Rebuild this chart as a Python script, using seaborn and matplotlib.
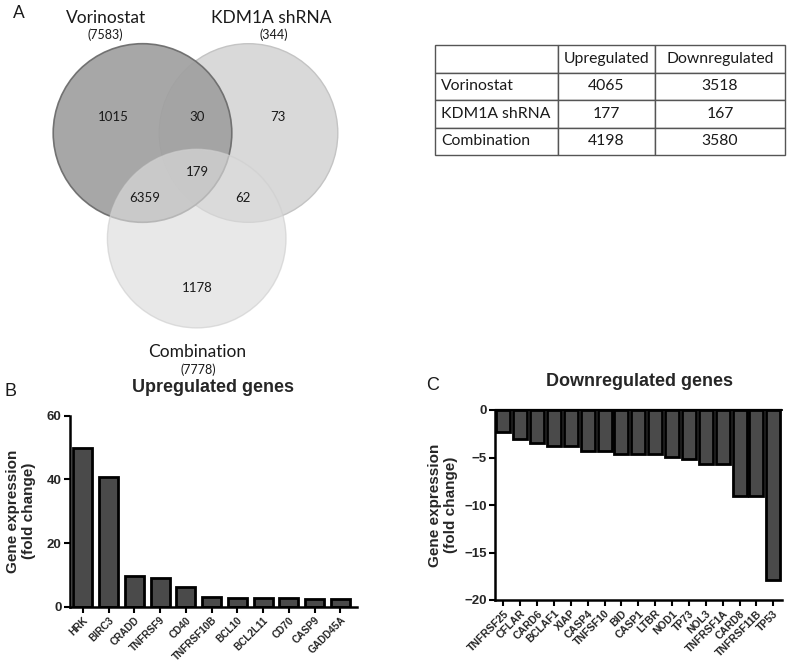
import numpy as np
import pandas as pd
import matplotlib
matplotlib.use("Agg")
import matplotlib.pyplot as plt
from matplotlib.patches import Circle
import seaborn as sns


#%% Data
# Venn (panel A)
Venn_Names      = ["Vorinostat", "KDM1A shRNA", "Combination"]
Venn_Totals     = [7583, 344, 7778]
# regions: V only, V&K, K only, V&K&C, V&C, K&C, C only
Venn_Regions    = [1015, 30, 73, 179, 6359, 62, 1178]

# Table (panel A)
Table_Rows      = ["Vorinostat", "KDM1A shRNA", "Combination"]
Table_Cols      = ["Upregulated", "Downregulated"]
Table_Up        = [4065, 177, 4198]
Table_Down      = [3518, 167, 3580]

# Panel B
Up_Genes        = ["HRK", "BIRC3", "CRADD", "TNFRSF9", "CD40", "TNFRSF10B",
                   "BCL10", "BCL2L11", "CD70", "CASP9", "GADD45A"]
Up_Values       = [50.0, 40.8, 9.6, 9.1, 6.1, 2.9, 2.7, 2.7, 2.7, 2.5, 2.5]

# Panel C
Down_Genes      = ["TNFRSF25", "CFLAR", "CARD6", "BCLAF1", "XIAP", "CASP4",
                   "TNFSF10", "BID", "CASP1", "LTBR", "NOD1", "TP73", "NOL3",
                   "TNFRSF1A", "CARD8", "TNFRSF11B", "TP53"]
Down_Values     = [-2.3, -3.0, -3.5, -3.8, -3.8, -4.3, -4.3, -4.6, -4.6, -4.6,
                   -4.9, -5.2, -5.7, -5.7, -9.0, -9.0, -17.9]


#%% Style
W, H = 791, 662

FontBar     = "Liberation Sans"
FontVenn    = "Lato"

Bar_Color       = "#4a4a4a"
Bar_EdgeColor   = "black"
Bar_EdgeWidth   = 2.0
Axis_LineWidth  = 1.8

FontSize_Tick       = 9.5
FontSize_XTick      = {"B": 7.2, "C": 7.6}
FontSize_AxisLabel  = 11
FontSize_Title      = 13


def fx(px):
    return px / W


def fy(py):
    return 1 - py / H


sns.set_theme(style="white")
plt.rcParams['font.family'] = [FontBar, 'DejaVu Sans']

Fig = plt.figure(figsize=[W / 100, H / 100], dpi=100)


#%% Panel A - Venn (drawn in pixel space on a full-figure overlay)
axv = Fig.add_axes([0, 0, 1, 1])
axv.set_xlim(0, W)
axv.set_ylim(H, 0)
axv.axis("off")

Circle_Centers  = [(142.5, 133), (248.5, 133), (196.7, 238.6)]
Circle_Radius   = 89.3

# draw order: KDM1A, Vorinostat, Combination
axv.add_patch(Circle(Circle_Centers[1], Circle_Radius, fc="#d9d9d9", ec="#c4c4c4",
                     lw=1.0, alpha=1.0, zorder=1))
axv.add_patch(Circle(Circle_Centers[0], Circle_Radius, fc="#a0a0a0", ec="#6a6a6a",
                     lw=1.2, alpha=0.92, zorder=2))
axv.add_patch(Circle(Circle_Centers[2], Circle_Radius, fc="#dcdcdc", ec="#cfcfcf",
                     lw=1.0, alpha=0.65, zorder=3))

Name_Pos    = [(106, 18), (271, 18), (197, 352)]
Total_Pos   = [(105, 35), (274, 35), (198, 370)]
for name, total, p1, p2 in zip(Venn_Names, Venn_Totals, Name_Pos, Total_Pos):
    axv.text(p1[0], p1[1], name, ha="center", va="center", fontsize=12.5,
             family=FontVenn, color="#1a1a1a", zorder=5)
    axv.text(p2[0], p2[1], "(%d)" % total, ha="center", va="center", fontsize=9,
             family=FontVenn, color="#1a1a1a", zorder=5)

Region_Pos = [(113, 117), (197, 117), (278, 117), (197, 172), (145, 198),
              (243, 198), (197, 288)]
for val, pos in zip(Venn_Regions, Region_Pos):
    axv.text(pos[0], pos[1], str(val), ha="center", va="center", fontsize=9.5,
             family=FontVenn, color="#1a1a1a", zorder=5)

# panel letters
axv.text(19, 13, "A", ha="center", va="center", fontsize=12.5, family=FontVenn, color="#1a1a1a")
axv.text(11, 391, "B", ha="center", va="center", fontsize=13, family=FontBar, color="#1a1a1a")
axv.text(433, 385, "C", ha="center", va="center", fontsize=13, family=FontBar, color="#1a1a1a")


#%% Panel A - Table
Tab_Left, Tab_Right, Tab_Top, Tab_Bottom = 435, 785, 45, 155
axt = Fig.add_axes([fx(Tab_Left), fy(Tab_Bottom), fx(Tab_Right - Tab_Left),
                    (Tab_Bottom - Tab_Top) / H])
axt.axis("off")

df_Table = pd.DataFrame({Table_Cols[0]: Table_Up, Table_Cols[1]: Table_Down},
                        index=Table_Rows)
Cell_Text = [["", Table_Cols[0], Table_Cols[1]]]
for r in df_Table.index:
    Cell_Text.append([r, str(df_Table.loc[r, Table_Cols[0]]),
                      str(df_Table.loc[r, Table_Cols[1]])])

Col_Widths = np.array([123, 97, 130]) / 350
tab = axt.table(cellText=Cell_Text, colWidths=Col_Widths, bbox=[0, 0, 1, 1],
                cellLoc="center")
tab.auto_set_font_size(False)
for (r, c), cell in tab.get_celld().items():
    cell.set_edgecolor("#555555")
    cell.set_linewidth(1.0)
    cell.get_text().set_fontsize(11.3)
    cell.get_text().set_family(FontVenn)
    cell.get_text().set_color("#1a1a1a")
    if c == 0:
        cell.get_text().set_ha("left")
        cell._loc = "left"
        cell.PAD = 0.05


#%% Panel B - Upregulated
df_Up = pd.DataFrame({"Gene": Up_Genes, "Value": Up_Values})

axB = Fig.add_axes([fx(70), fy(606.7), fx(357 - 70), (606.7 - 415.7) / H])
sns.barplot(ax=axB, data=df_Up, x="Gene", y="Value", color=Bar_Color,
            saturation=1, width=0.74, edgecolor=Bar_EdgeColor,
            linewidth=Bar_EdgeWidth, errorbar=None)

axB.set_ylim(0, 60)
axB.set_yticks([0, 20, 40, 60])
axB.set_xlim(-0.5, 10.65)


#%% Panel C - Downregulated
df_Down = pd.DataFrame({"Gene": Down_Genes, "Value": Down_Values})

axC = Fig.add_axes([fx(495), fy(600), fx(781.7 - 495), (600 - 410) / H])
sns.barplot(ax=axC, data=df_Down, x="Gene", y="Value", color=Bar_Color,
            saturation=1, width=0.83, edgecolor=Bar_EdgeColor,
            linewidth=Bar_EdgeWidth, errorbar=None)

axC.set_ylim(-20, 0)
axC.set_yticks([0, -5, -10, -15, -20])
axC.set_xlim(-0.5, 16.5)
axC.axhline(0, color="black", lw=1.6, zorder=5, clip_on=False)


#%% Common axis styling
Label_X = {"B": -0.118, "C": -0.13}
for key, ax in zip(["B", "C"], [axB, axC]):
    ax.set_xlabel("")
    ax.set_ylabel("Gene expression\n(fold change)", fontsize=FontSize_AxisLabel,
                  fontweight="bold", linespacing=1.2)
    ax.yaxis.set_label_coords(Label_X[key], 0.5)
    ax.spines[['right', 'top']].set_visible(False)
    ax.spines[['left', 'bottom']].set_linewidth(Axis_LineWidth)
    ax.spines[['left', 'bottom']].set_color("black")
    ax.tick_params(axis="both", direction="out", length=4, width=1.5,
                   color="black", left=True, bottom=True, pad=2)
    for lab in ax.get_yticklabels():
        lab.set_fontsize(FontSize_Tick)
        lab.set_fontweight("bold")
    ax.set_xticks(ax.get_xticks())
    ax.set_xticklabels([t.get_text() for t in ax.get_xticklabels()],
                       rotation=45, ha="right", rotation_mode="anchor",
                       fontsize=FontSize_XTick[key], fontweight="bold")
    ax.set_facecolor("none")

Fig.text(fx(213), fy(387), "Upregulated genes", ha="center", va="center",
         fontsize=FontSize_Title, fontweight="bold")
Fig.text(fx(639), fy(382), "Downregulated genes", ha="center", va="center",
         fontsize=FontSize_Title, fontweight="bold")


Fig.savefig("out.png", dpi=100)
